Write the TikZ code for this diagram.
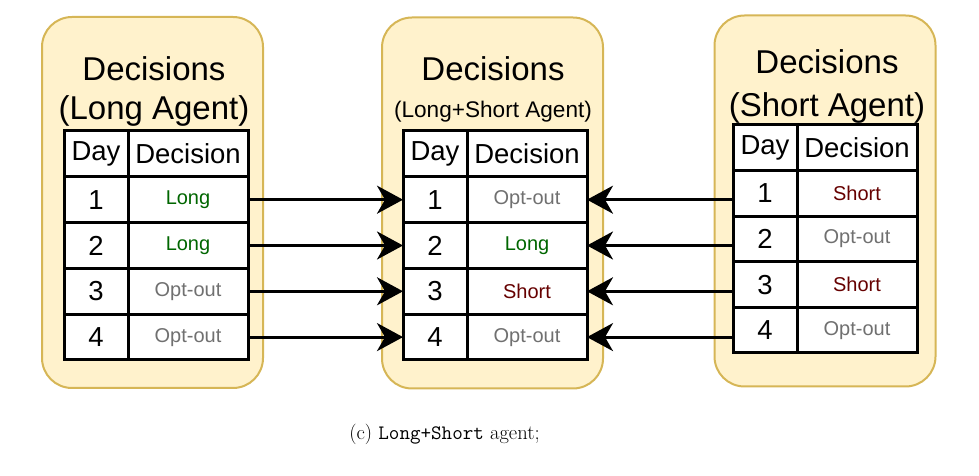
\documentclass[tikz,border=0pt]{standalone}
\usepackage{fontspec}
\usepackage{tikz}
\usetikzlibrary{arrows.meta,positioning}
\newfontfamily\arialfont{Liberation Sans}
\definecolor{panelfill}{HTML}{FFF2CC}
\definecolor{paneldraw}{HTML}{D6B656}
\definecolor{longgreen}{HTML}{006600}
\definecolor{shortred}{HTML}{660000}
\definecolor{optgray}{HTML}{707070}

\begin{document}
\begin{tikzpicture}[
  x=1pt, y=1pt,
  panel/.style={draw=paneldraw, fill=panelfill, line width=2pt, rounded corners=30pt, minimum width=221pt, minimum height=371pt},
  title/.style={anchor=base, font=\arialfont\fontsize{33}{36}\selectfont},
  cell/.style={draw, line width=3pt, fill=white, minimum height=45.8pt, inner sep=0pt, outer sep=0pt, font=\arialfont\fontsize{27.5}{30}\selectfont},
  daycell/.style={cell, minimum width=64pt},
  deccell/.style={cell, minimum width=120pt},
  choice/.style={font=\arialfont\fontsize{20}{24}\selectfont},
  arr/.style={-{Stealth[length=26pt, width=28pt, inset=8pt]}, line width=3pt}
]
\useasboundingbox (0,0) rectangle (979,476);

% the three panels
\node[panel] (lngpanel) at (152.5,273.5) {};
\node[panel] (mixpanel) at (492.5,273) {};
\node[panel] (shtpanel) at (825,275) {};

\node[title] (lngtitle) at (154,395) {Decisions};
\node[title] (lngsub) at (154,356) {(Long Agent)};
\node[title] (mixtitle) at (493,395) {Decisions};
\node[title, font=\arialfont\fontsize{22.6}{26}\selectfont] (mixsub) at (493,358) {(Long+Short Agent)};
\node[title] (shttitle) at (827,402) {Decisions};
\node[title] (shtsub) at (827,359) {(Short Agent)};

% left table
\node[daycell, anchor=north west] (lngday0) at (64,345) {Day};
\node[deccell, right=0pt of lngday0] (lngdec0) {Decision};
\foreach \i/\d/\c [count=\j from 0] in {1/Long/longgreen, 2/Long/longgreen, 3/Opt-out/optgray, 4/Opt-out/optgray} {
  \node[daycell, below=0pt of lngday\j] (lngday\i) {\i};
  \node[deccell, choice, text=\c, right=0pt of lngday\i] (lngdec\i) {\d};
}

% middle table
\node[daycell, anchor=north west] (mixday0) at (403,345) {Day};
\node[deccell, right=0pt of mixday0] (mixdec0) {Decision};
\foreach \i/\d/\c [count=\j from 0] in {1/Opt-out/optgray, 2/Long/longgreen, 3/Short/shortred, 4/Opt-out/optgray} {
  \node[daycell, below=0pt of mixday\j] (mixday\i) {\i};
  \node[deccell, choice, text=\c, right=0pt of mixday\i] (mixdec\i) {\d};
}

% right table
\node[daycell, anchor=north west, minimum height=45.6pt] (shtday0) at (733,351) {Day};
\node[deccell, minimum height=45.6pt, right=0pt of shtday0] (shtdec0) {Decision};
\foreach \i/\d/\c [count=\j from 0] in {1/Short/shortred, 2/Opt-out/optgray, 3/Short/shortred, 4/Opt-out/optgray} {
  \node[daycell, minimum height=45.6pt, below=0pt of shtday\j] (shtday\i) {\i};
  \node[deccell, choice, minimum height=45.6pt, text=\c, right=0pt of shtday\i] (shtdec\i) {\d};
}

% arrows into the middle table
\foreach \i in {1,...,4} {
  \draw[arr] (lngdec\i.east) -- (mixday\i.west);
  \draw[arr] (shtday\i.west |- mixdec\i.east) -- (mixdec\i.east);
}

\node[anchor=base, font=\fontsize{20.5}{24}\selectfont] (caption) at (444.5,36) {(c) \texttt{Long+Short} agent;};
\end{tikzpicture}
\end{document}
